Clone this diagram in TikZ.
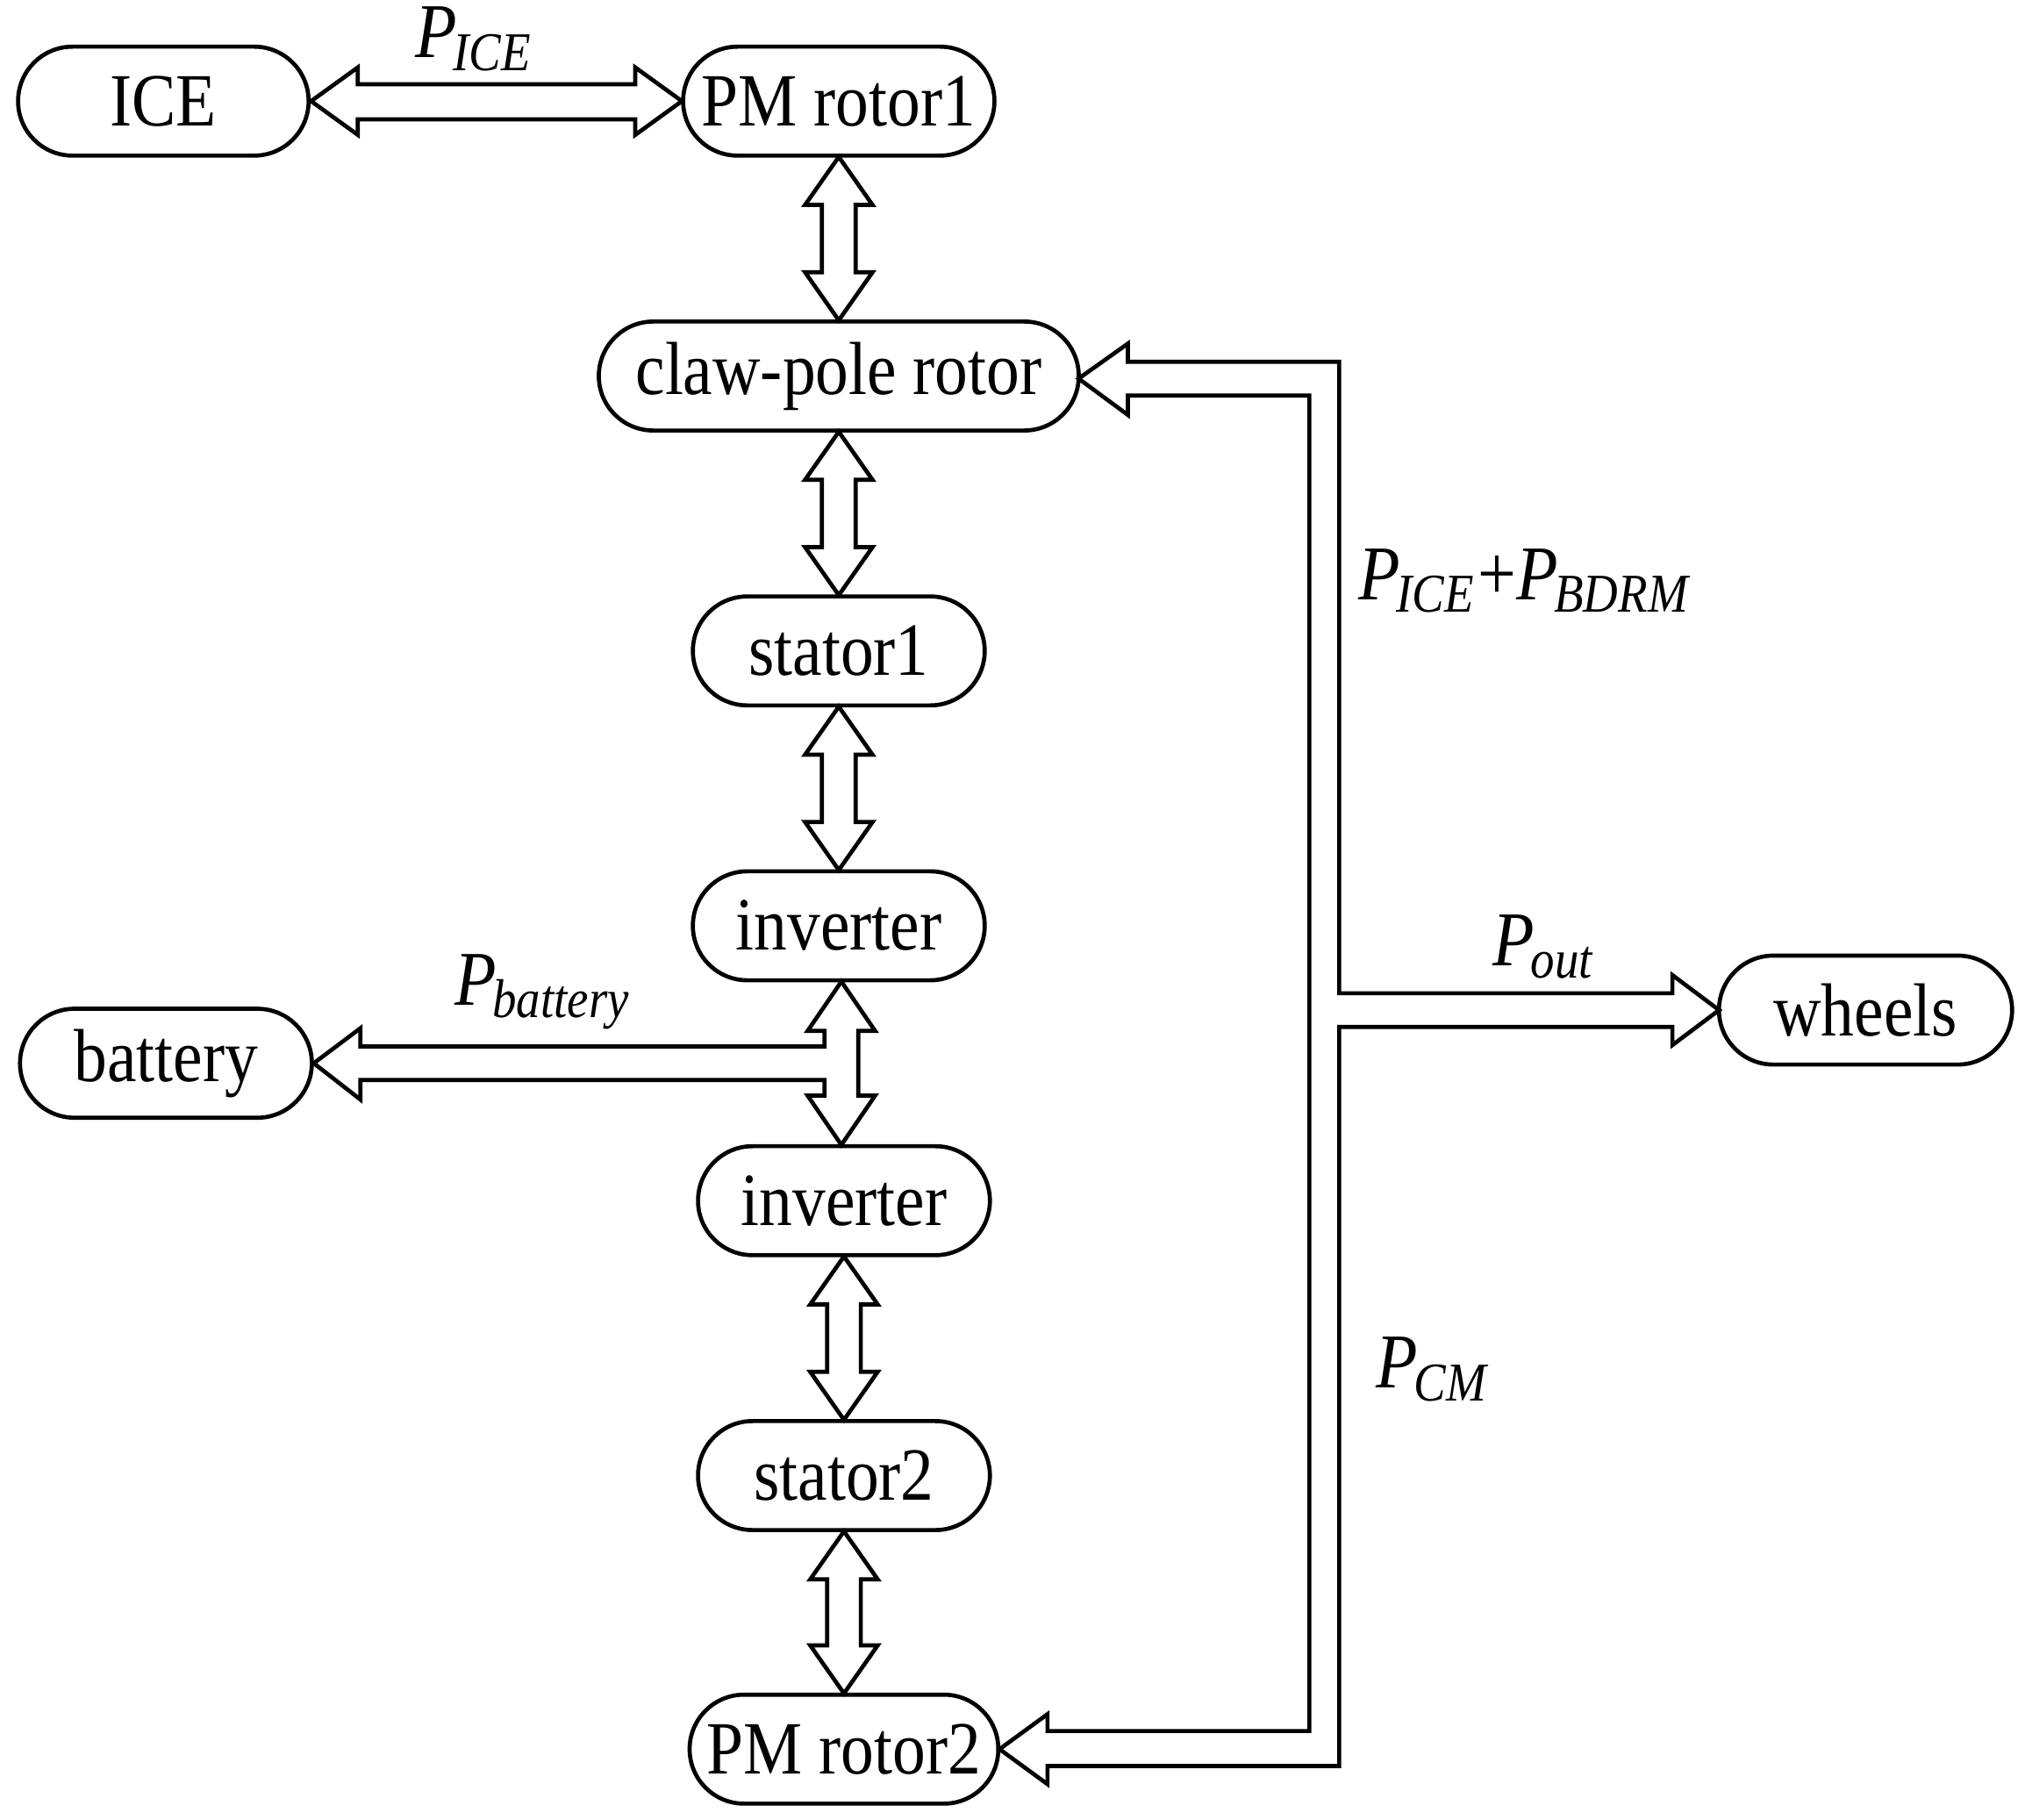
\documentclass[tikz,border=0pt]{standalone}
\usepackage{fontspec}
\setmainfont{Liberation Serif}[FakeStretch=0.88]
\newcommand{\Pl}[1]{{\itshape P\kern-0.05em\raisebox{-0.35ex}{\fontsize{12pt}{12pt}\selectfont #1}}}
\begin{document}
\begin{tikzpicture}[x={(0.01cm,0)},y={(0,-0.01cm)},
  box/.style={draw,line width=0.9pt,rounded corners=0.42cm,minimum height=0.84cm,inner sep=0pt,
    font=\fontsize{16.5pt}{18pt}\selectfont},
  harrow/.style={draw,line width=0.9pt,fill=white,line join=miter},
  lab/.style={font=\fontsize{17pt}{19pt}\selectfont,inner sep=0pt}]
\useasboundingbox (0,0) rectangle (1562,1403);
\node[box,minimum width=2.24cm] (ice) at (126,78) {ICE};
\node[box,minimum width=2.40cm] (pm1) at (647,78) {PM rotor1};
\node[box,minimum width=3.70cm] (claw) at (647,290) {claw-pole rotor};
\node[box,minimum width=2.25cm] (st1) at (647,502) {stator1};
\node[box,minimum width=2.25cm] (inv1) at (647,714) {inverter};
\node[box,minimum width=2.25cm] (bat) at (128,820) {battery};
\node[box,minimum width=2.25cm] (inv2) at (651,926) {inverter};
\node[box,minimum width=2.25cm] (st2) at (651,1138) {stator2};
\node[box,minimum width=2.38cm] (pm2) at (651,1349) {PM rotor2};
\node[box,minimum width=2.26cm] (wh) at (1439,779) {wheels};
% horizontal ICE - PM rotor1
\draw[harrow] (240,78) -- (276,52) -- (276,65) -- (490,65) -- (490,52) -- (526,78) -- (490,104) -- (490,92) -- (276,92) -- (276,104) -- cycle;
% vertical double arrows
\foreach \x/\a/\b in {647/121/247, 647/333/459, 647/545/671, 651/969/1095, 651/1181/1306}{
  \draw[harrow] (\x,\a) -- (\x+26,\a+37) -- (\x+13,\a+37) -- (\x+13,\b-37) -- (\x+26,\b-37) -- (\x,\b)
    -- (\x-26,\b-37) -- (\x-13,\b-37) -- (\x-13,\a+37) -- (\x-26,\a+37) -- cycle;}
% inverter - inverter with battery branch
\draw[harrow] (649,757) -- (675,795) -- (662,795) -- (662,845) -- (675,845) -- (649,883) -- (623,845) -- (636,845)
  -- (636,833) -- (278,833) -- (278,848) -- (242,820) -- (278,793) -- (278,807) -- (636,807) -- (636,795) -- (623,795) -- cycle;
% right loop
\draw[harrow] (832,292) -- (870,265) -- (870,279) -- (1033,279) -- (1033,766) -- (1290,766) -- (1290,752) -- (1326,779)
  -- (1290,806) -- (1290,792) -- (1033,792) -- (1033,1362) -- (808,1362) -- (808,1376) -- (771,1349) -- (808,1322)
  -- (808,1335) -- (1010,1335) -- (1010,305) -- (870,305) -- (870,320) -- cycle;
% labels
\node[lab] (l1) at (365,30) {\Pl{ICE}};
\node[lab] (l2) at (1175,448) {\Pl{ICE}\kern0.05em+\Pl{BDRM}};
\node[lab] (l3) at (1190,730) {\Pl{out}};
\node[lab] (l4) at (418,765) {\Pl{battery}};
\node[lab] (l5) at (1104,1056) {\Pl{CM}};
\end{tikzpicture}
\end{document}
